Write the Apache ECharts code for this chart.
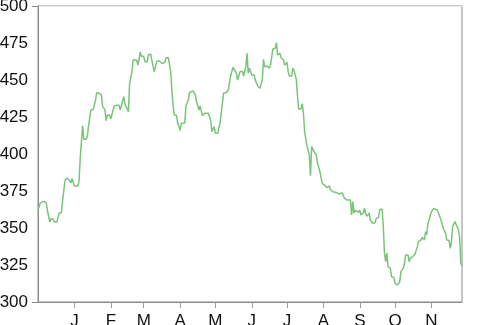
<!DOCTYPE html>
<html>
<head>
<meta charset="utf-8">
<script src="https://cdn.jsdelivr.net/npm/echarts@6/dist/echarts.min.js"></script>
<style>
html,body{margin:0;padding:0;background:#fff;}
#chart{width:477px;height:325px;}
</style>
</head>
<body>
<div id="chart"></div>
<script>
// day offsets relative to Jan 1 (non-leap year) and closing values
const days = [-31,-29,-26,-24,-23,-22,-21,-20,-18,-17,-15,-14,-13,-11,-10,-8,-7,-5,-4,-3,-2,-1,
  0,3,4,5,7,8,10,11,12,14,16,17,18,19,21,23,24,26,27,28,30,31,33,34,36,38,39,40,42,43,44,46,47,49,
  50,53,54,55,56,57,59,60,62,63,65,67,68,70,72,75,77,78,80,82,83,84,85,87,88,90,91,94,95,97,98,
  101,103,104,106,107,109,111,112,114,116,117,119,120,122,124,125,127,129,131,133,135,136,138,139,
  141,143,144,146,147,148,149,151,153,154,156,158,160,161,162,164,166,167,169,171,172,173,175,176,
  178,179,181,182,183,185,186,187,189,190,191,193,194,195,196,198,199,200,201,202,204,206,207,208,
  209,211,213,215,217,218,220,223,225,228,229,230,232,233,235,236,237,238,239,240,242,243,244,246,
  247,248,249,251,252,254,256,257,259,260,262,263,264,265,266,267,269,270,272,273,275,277,278,280,
  281,282,284,285,286,288,290,292,293,295,296,298,299,300,301,302,303,304,306,307,309,310,311,313,
  314,316,317,319,320,321,322,324,325,327,328,329,330];
const values = [362,367,368,367,362,361,354,356,356,354,354,353.5,360,360.5,369,382,383.6,383,383,380.6,383.5,384,
  378.4,378.4,382,398,419,410,410,412,418.5,429.7,430,429.5,436.5,441.4,441,440,432,430,422.5,426.4,426.4,423.6,430,432.4,433,433,429.7,431,438.7,433.8,433.5,428.6,447.7,455.6,
  463.5,463.5,460,463.5,469,466,466,462.4,462.4,467,467.4,459,455.6,462.4,463,461,462,465,465,455.6,443,433,426.4,426,420.7,416,420.7,421,432.4,436.5,441.4,
  442.6,440,435.3,429.7,432.4,426,427.5,428,427.5,423,415,418.5,414,414,421,420,441,441.4,443.2,452.7,458.6,458.4,454.5,450,
  455.6,456,452.7,459,468,454.5,458,453.4,453.4,450,446,444.4,450,464,459,459.5,458,460,471,471.4,475.2,467,468,465,
  463.5,460,462,455.6,452.7,452.7,458,456.5,450,438.7,430.2,430.5,434,427.5,415,405.6,405,399.3,385.3,405,401.6,399.3,393.7,394,
  388,380.2,379,377.2,378.4,376,374.5,374,373,373.6,373.5,370,369,367.8,369,358.8,367.8,360,362,362,360.6,362,358.8,360.5,
  363.3,359.5,358,360,355,353.2,353.5,356.5,357.2,362.6,362.6,351,332.9,327.2,333,323.9,322.8,317,316.5,312.6,311.5,313.7,320.5,322.7,
  326,331.8,331.8,327.2,329.5,330.7,332.4,337.4,340.8,342,343.5,342,347.5,345.5,353.2,355.4,358.8,361,363.3,364.3,362,361.6,358,
  353.2,349.8,346.4,342,341.6,336.3,340.4,351,354.3,354.3,348.6,343.5,326,324.3];
// month starts (day offsets) and their labels
const monthStarts = [0,31,59,90,120,151,181,212,243,273,304];
const tickLabels = ['J','F','M','A','M','J','J','A','S','O','N'];
const yTicks = [300,325,350,375,400,425,450,475,500];

const seriesData = days.map((d,i)=>[d, values[i]]);

const chart = echarts.init(document.getElementById('chart'));
chart.setOption({
  animation:false,
  grid:{left:38,right:15,top:6,bottom:23,show:true,borderColor:'#8c8c8c',borderWidth:1,
    containLabel:false,outerBoundsMode:'none'},
  xAxis:{
    type:'value',
    min:days[0], max:days[days.length-1],
    axisLine:{show:true,onZero:false,lineStyle:{color:'#8c8c8c',width:1}},
    axisTick:{show:true,length:6,lineStyle:{color:'#a0a0a0'},customValues:monthStarts},
    axisLabel:{show:true,customValues:monthStarts,margin:11,color:'#111',fontSize:17,
      fontFamily:'Liberation Sans, Arial, sans-serif',hideOverlap:false,
      formatter:(v)=>{const i=monthStarts.indexOf(v);return i>=0?tickLabels[i]:'';}},
    splitLine:{show:false}
  },
  yAxis:{
    type:'value',min:yTicks[0],max:yTicks[yTicks.length-1],interval:25,
    axisLine:{show:true,onZero:false,lineStyle:{color:'#8c8c8c',width:1}},
    axisTick:{show:true,length:6,lineStyle:{color:'#8c8c8c'},customValues:[yTicks[0],yTicks[yTicks.length-1]]},
    axisLabel:{margin:10,color:'#111',fontSize:17,fontFamily:'Liberation Sans, Arial, sans-serif'},
    splitLine:{show:true,lineStyle:{color:'#ededed',width:1}}
  },
  series:[{
    type:'line',data:seriesData,showSymbol:false,symbol:'none',
    lineStyle:{color:'#7ac47a',width:1.5},
    itemStyle:{color:'#7ac47a'}
  }]
});
</script>
</body>
</html>
